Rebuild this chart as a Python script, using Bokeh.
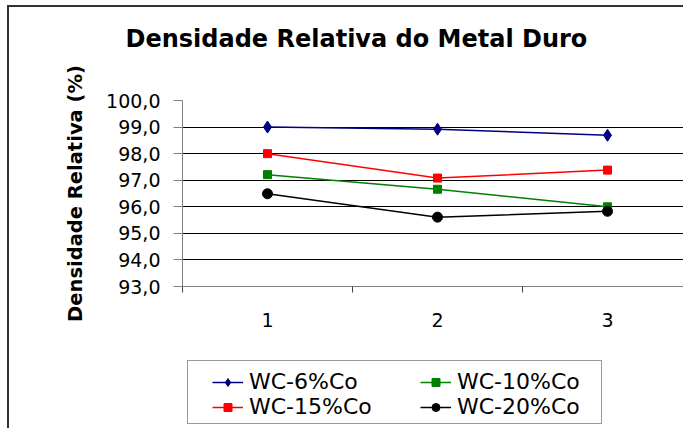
from bokeh.plotting import figure
from bokeh.layouts import column
from bokeh.models import Range1d, FixedTicker, Legend, LegendItem, Title, Grid
from bokeh.core.properties import value
from bokeh.embed import file_html
from bokeh.resources import INLINE

# ---- data ----
amostras = [1, 2, 3]
x_labels = ["1", "2", "3"]
y_ticks = [93, 94, 95, 96, 97, 98, 99, 100]
y_tick_labels = ["93,0", "94,0", "95,0", "96,0", "97,0", "98,0", "99,0", "100,0"]
wc6 = [99.0, 98.92, 98.69]
wc10 = [97.21, 96.66, 96.0]
wc15 = [98.0, 97.08, 97.38]
wc20 = [96.49, 95.61, 95.83]
series_names = ["WC-6%Co", "WC-10%Co", "WC-15%Co", "WC-20%Co"]

FONT = "DejaVu Sans"

p = figure(width=674, height=333, output_backend="svg", toolbar_location=None,
           x_range=Range1d(0.5, 3.447), y_range=Range1d(93, 100),
           min_border_left=173, min_border_right=0, min_border_top=93,
           min_border_bottom=54)
p.background_fill_color = "white"
p.border_fill_color = "white"
p.outline_line_color = None

# invisible spacer title (closest to the frame) + real title (outermost)
spacer = Title(text=" ", text_font_size="4px", standoff=39)
p.add_layout(spacer, "above")
t = Title(text="Densidade Relativa do Metal Duro", align="left",
          text_font=FONT, text_font_size="24px", text_font_style="bold",
          text_color="black", standoff=4, offset=-57)
p.add_layout(t, "above")

# grid
p.xgrid.visible = False
p.ygrid.ticker = FixedTicker(ticks=y_ticks[1:-1])
p.ygrid.grid_line_color = "black"
p.ygrid.grid_line_width = 1
top_grid = Grid(dimension=1, ticker=FixedTicker(ticks=y_ticks[-1:]),
                grid_line_color="#d9d9d9", grid_line_width=1)
p.add_layout(top_grid)

# y axis
p.yaxis.ticker = FixedTicker(ticks=y_ticks)
p.yaxis.major_label_overrides = {t_: l_ for t_, l_ in zip(y_ticks, y_tick_labels)}
p.yaxis.axis_line_color = "#808080"
p.yaxis.major_tick_line_color = "#808080"
p.yaxis.major_tick_out = 9
p.yaxis.major_tick_in = 0
p.yaxis.minor_tick_line_color = None
p.yaxis.major_label_standoff = 13
p.yaxis.major_label_text_font = FONT
p.yaxis.major_label_text_font_size = "19px"
p.yaxis.major_label_text_color = "black"
p.yaxis.axis_label = "Densidade Relativa (%)"
p.yaxis.axis_label_text_font = FONT
p.yaxis.axis_label_text_font_size = "19.5px"
p.yaxis.axis_label_text_font_style = "bold"
p.yaxis.axis_label_text_color = "black"
p.yaxis.axis_label_standoff = 16

# x axis
p.xaxis.ticker = FixedTicker(ticks=amostras, minor_ticks=[0.5, 1.5, 2.5, 3.5])
p.xaxis.major_label_overrides = {a: l for a, l in zip(amostras, x_labels)}
p.xaxis.axis_line_color = "#808080"
p.xaxis.major_tick_out = 0
p.xaxis.major_tick_in = 0
p.xaxis.major_tick_line_color = None
p.xaxis.minor_tick_line_color = "#404040"
p.xaxis.minor_tick_out = 6
p.xaxis.minor_tick_in = 0
p.xaxis.major_label_standoff = 20
p.xaxis.major_label_text_font = FONT
p.xaxis.major_label_text_font_size = "19px"
p.xaxis.major_label_text_color = "black"

# series
colors = ["#000080", "#008000", "#FF0000", "#000000"]
markers = ["diamond", "square", "square", "circle"]
sizes = [12, 8, 8, 10]
data = [wc6, wc10, wc15, wc20]

for ys, c, m, s in zip(data, colors, markers, sizes):
    p.line(amostras, ys, line_color=c, line_width=1.5)
    p.scatter(amostras, ys, marker=m, size=s, fill_color=c, line_color=c)

# ---- legend strip (second figure directly below; series lie outside its range) ----
p2 = figure(width=674, height=88, output_backend="svg", toolbar_location=None,
            x_range=Range1d(0.5, 3.447), y_range=Range1d(0, 1),
            x_axis_location=None, y_axis_location=None,
            min_border=0, min_border_left=0, min_border_right=0,
            min_border_top=0, min_border_bottom=0)
p2.grid.visible = False
p2.outline_line_color = None
p2.background_fill_color = "white"
p2.border_fill_color = "white"

legend_items = {}
for name, ys, c, m, s in zip(series_names, data, colors, markers, sizes):
    ln = p2.line(amostras, ys, line_color=c, line_width=1.5)
    sc = p2.scatter(amostras, ys, marker=m, size=s, fill_color=c, line_color=c)
    legend_items[name] = LegendItem(label=value(name), renderers=[ln, sc])

dummy = p2.line(amostras, wc6, line_alpha=0)
box = Legend(items=[LegendItem(label=value(" "), renderers=[dummy])],
             location=(5, 4), padding=0, margin=0, spacing=0,
             glyph_width=1, glyph_height=1, label_standoff=0,
             label_width=412, label_height=62,
             border_line_color="#333333", border_line_width=1,
             background_fill_color="white", background_fill_alpha=1,
             label_text_font_size="1px")
p2.add_layout(box, "center")

# column-major filling: first column 6% / 15%, second column 10% / 20%
order = ["WC-6%Co", "WC-15%Co", "WC-10%Co", "WC-20%Co"]
leg = Legend(items=[legend_items[n] for n in order], ncols=2, location=(30, 9),
             padding=0, margin=0, spacing=0, glyph_width=31, glyph_height=20,
             label_standoff=6, label_width=171, label_text_font=FONT,
             label_text_font_size="22px", label_text_color="black",
             border_line_alpha=0, background_fill_alpha=0)
p2.add_layout(leg, "center")

layout = column(p, p2, spacing=0,
                styles={"margin-left": "7px", "margin-top": "5px",
                        "border-left": "2px solid #333333",
                        "border-top": "2px solid #333333"})

open("out.html", "w").write(file_html(layout, INLINE))
